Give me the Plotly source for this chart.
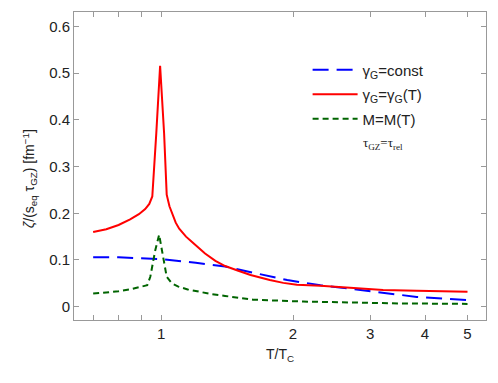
import plotly.graph_objects as go
import math

# Data
T_red = [0.70, 0.75, 0.80, 0.85, 0.89, 0.92, 0.94, 0.955, 0.975, 0.995, 1.016, 1.03, 1.045, 1.06, 1.08, 1.10,
         1.14, 1.175, 1.22, 1.26, 1.33, 1.40, 1.50, 1.60, 1.77, 1.90, 2.04, 2.31, 2.75, 3.21, 3.83, 5.0]
v_red = [0.160, 0.166, 0.175, 0.187, 0.198, 0.209, 0.220, 0.236, 0.370, 0.516, 0.372, 0.240, 0.215, 0.198, 0.180, 0.167,
         0.150, 0.139, 0.125, 0.114, 0.098, 0.087, 0.077, 0.068, 0.057, 0.051, 0.047, 0.045, 0.040, 0.036, 0.034, 0.032]

T_blue = [0.70, 0.80, 0.87, 1.0, 1.2, 1.4, 1.62, 1.94, 2.31, 2.75, 3.21, 3.83, 5.0]
v_blue = [0.106, 0.106, 0.104, 0.102, 0.094, 0.086, 0.073, 0.057, 0.046, 0.037, 0.029, 0.021, 0.014]

T_green = [0.70, 0.75, 0.80, 0.85, 0.89, 0.93, 0.945, 0.97, 0.99, 1.012, 1.03, 1.058, 1.095, 1.15, 1.22, 1.30,
           1.40, 1.62, 2.11, 2.75, 3.5, 5.0]
v_green = [0.028, 0.030, 0.033, 0.037, 0.041, 0.046, 0.064, 0.121, 0.154, 0.107, 0.064, 0.050, 0.043, 0.037, 0.032, 0.027,
           0.023, 0.015, 0.011, 0.009, 0.007, 0.006]

x_tickvals = [0.7, 0.8, 0.9, 1, 2, 3, 4, 5]
x_ticktext = ["", "", "", "1", "2", "3", "4", "5"]
y_tickvals = [0, 0.1, 0.2, 0.3, 0.4, 0.5, 0.6]
y_ticktext = ["0", "0.1", "0.2", "0.3", "0.4", "0.5", "0.6"]

fig = go.Figure()
fig.add_trace(go.Scatter(x=T_blue, y=v_blue, mode="lines", name="γ<sub>G</sub>=const",
                         line=dict(color="#0000ff", width=2, dash="16px,8px"), legendgroup="a"))
fig.add_trace(go.Scatter(x=T_red, y=v_red, mode="lines", name="γ<sub>G</sub>=γ<sub>G</sub>(T)",
                         line=dict(color="#ff0000", width=2), legendgroup="b"))
fig.add_trace(go.Scatter(x=T_green, y=v_green, mode="lines", name="M=M(T)",
                         line=dict(color="#006400", width=2, dash="6px,4px"), legendgroup="c"))

axcol = "#999999"
fig.update_layout(
    width=498, height=383,
    margin=dict(l=74, r=12, t=12, b=63),
    paper_bgcolor="white", plot_bgcolor="white",
    font=dict(family="Liberation Sans, Arial, sans-serif", size=15, color="#222"),
    showlegend=True,
    legend=dict(x=0.567, y=0.865, xanchor="left", yanchor="top",
                font=dict(size=15, color="#222"), bgcolor="rgba(0,0,0,0)",
                tracegroupgap=2, itemwidth=45),
    xaxis=dict(type="log", range=[math.log10(0.633), math.log10(5.51)],
               tickvals=x_tickvals, ticktext=x_ticktext, automargin=False,
               ticks="inside", ticklen=5, tickcolor=axcol,
               showline=True, linecolor=axcol, linewidth=1, mirror="ticks",
               showgrid=False, zeroline=False,
               title=dict(text="T/T<sub>C</sub>", font=dict(size=14), standoff=8)),
    yaxis=dict(range=[-0.0285, 0.631], automargin=False,
               tickvals=y_tickvals, ticktext=y_ticktext,
               ticks="inside", ticklen=5, tickcolor=axcol,
               showline=True, linecolor=axcol, linewidth=1, mirror="ticks",
               showgrid=False, zeroline=False),
)

fig.add_annotation(text="<i>ζ</i>/(s<sub>eq</sub> τ<sub>GZ</sub>) [fm<sup>−1</sup>]",
                   xref="paper", yref="paper", x=-0.107, y=0.46,
                   textangle=-90, showarrow=False, font=dict(size=14, color="#222"),
                   xanchor="center", yanchor="middle")
fig.add_annotation(text="τ<sub>GZ</sub>=τ<sub>rel</sub>",
                   xref="paper", yref="paper", x=(361 - 74) / 412, y=(320 - 143) / 308,
                   showarrow=False, xanchor="left", yanchor="middle",
                   font=dict(family="Liberation Serif, Times New Roman, serif", size=13, color="#222"))

fig.write_html("out.html", config={"displayModeBar": False},
               post_script="document.body.style.margin='0';")
